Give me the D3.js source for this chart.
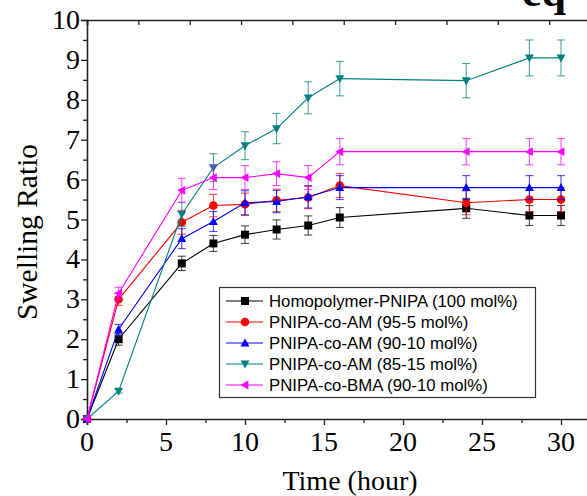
<!DOCTYPE html>
<html>
<head>
<meta charset="utf-8">
<script src="https://cdn.jsdelivr.net/npm/d3@7"></script>
<style>
  body { margin: 0; background: #fff; }
  svg { display: block; }
</style>
</head>
<body>
<script>
const hours = [0, 2, 6, 8, 10, 12, 14, 16, 24, 28, 30]
const seriesNames = [
  'Homopolymer-PNIPA (100 mol%)',
  'PNIPA-co-AM (95-5 mol%)',
  'PNIPA-co-AM (90-10 mol%)',
  'PNIPA-co-AM (85-15 mol%)',
  'PNIPA-co-BMA (90-10 mol%)'
]
const homoValues = [0, 2.0, 3.9, 4.4, 4.62, 4.75, 4.85, 5.05, 5.28, 5.1, 5.1]
const am95Values = [0, 3.0, 4.93, 5.35, 5.38, 5.48, 5.55, 5.85, 5.42, 5.5, 5.5]
const am90Values = [0, 2.25, 4.52, 4.95, 5.42, 5.45, 5.57, 5.8, 5.8, 5.8, 5.8]
const am85Values = [0, 0.7, 5.13, 6.3, 6.85, 7.28, 8.05, 8.53, 8.48, 9.05, 9.05]
const bmaValues = [0, 3.15, 5.73, 6.05, 6.05, 6.15, 6.05, 6.7, 6.7, 6.7, 6.7]
const homoErrors = [0, 0.15, 0.18, 0.2, 0.22, 0.24, 0.24, 0.25, 0.25, 0.25, 0.25]
const am95Errors = [0, 0.15, 0.3, 0.28, 0.28, 0.28, 0.28, 0.3, 0.3, 0.3, 0.3]
const am90Errors = [0, 0.12, 0.25, 0.25, 0.3, 0.28, 0.28, 0.3, 0.3, 0.3, 0.3]
const am85Errors = [0, 0.05, 0.3, 0.35, 0.35, 0.38, 0.4, 0.43, 0.43, 0.45, 0.45]
const bmaErrors = [0, 0.15, 0.3, 0.3, 0.3, 0.3, 0.3, 0.33, 0.33, 0.33, 0.33]
const xTicks = [0, 5, 10, 15, 20, 25, 30]
const yTicks = [0, 1, 2, 3, 4, 5, 6, 7, 8, 9, 10]

const colors = ['#000000', '#ff0000', '#0000ff', '#008080', '#ff00ff']
const symbols = ['square', 'circle', 'up', 'down', 'left']
const allValues = [homoValues, am95Values, am90Values, am85Values, bmaValues]
const allErrors = [homoErrors, am95Errors, am90Errors, am85Errors, bmaErrors]

const width = 587
const height = 496
const serif = '"Liberation Serif", "Times New Roman", serif'
const sans = '"Liberation Sans", Arial, sans-serif'

const svg = d3.select('body').append('svg')
  .attr('width', width)
  .attr('height', height)

const x = d3.scaleLinear().domain([0, 32]).range([87, 87 + 32 * 15.8])
const y = d3.scaleLinear().domain([0, 10]).range([419, 20])

// marker path for a given symbol name
function marker (kind, s) {
  const h = s / 2
  if (kind === 'square') return `M${-h},${-h}H${h}V${h}H${-h}Z`
  if (kind === 'circle') return d3.symbol(d3.symbolCircle, Math.PI * h * h * 1.15)()
  if (kind === 'up') return `M0,${-h * 1.15}L${h * 1.1},${h * 0.85}L${-h * 1.1},${h * 0.85}Z`
  if (kind === 'down') return `M0,${h * 1.15}L${h * 1.1},${-h * 0.85}L${-h * 1.1},${-h * 0.85}Z`
  return `M${-h * 1.15},0L${h * 0.85},${-h * 1.1}L${h * 0.85},${h * 1.1}Z`
}

// axes
const axisColor = '#222'
const bottomAxis = svg.append('g').attr('transform', `translate(0, ${y(0)})`)
bottomAxis.call(d3.axisBottom(x).tickValues(d3.range(0, 32.5, 2.5)).tickSize(6).tickFormat(''))
bottomAxis.selectAll('.tick line').attr('y2', d => d % 5 === 0 ? 6 : 4)
const leftAxis = svg.append('g').attr('transform', `translate(${x(0)}, 0)`)
leftAxis.call(d3.axisLeft(y).tickValues(d3.range(0, 10.01, 0.5)).tickSize(6).tickFormat(''))
leftAxis.selectAll('.tick line').attr('x2', d => Number.isInteger(d) ? -6 : -4)
const topAxis = svg.append('g').attr('transform', `translate(0, ${y(10)})`)
topAxis.call(d3.axisTop(x).tickValues(d3.range(0, 32, 3.25)).tickSize(-5).tickFormat(''))

svg.selectAll('.domain').attr('stroke', axisColor).attr('stroke-width', 1.6)
svg.selectAll('.tick line').attr('stroke', axisColor).attr('stroke-width', 1.3)

svg.append('g').selectAll('text')
  .data(xTicks)
  .enter().append('text')
  .attr('x', d => x(d))
  .attr('y', 451)
  .attr('text-anchor', 'middle')
  .style('font-family', serif)
  .style('font-size', '28px')
  .text(d => d)

svg.append('g').selectAll('text')
  .data(yTicks)
  .enter().append('text')
  .attr('x', 80)
  .attr('y', d => y(d) + 9)
  .attr('text-anchor', 'end')
  .style('font-family', serif)
  .style('font-size', '28px')
  .text(d => d)

svg.append('text')
  .attr('x', 350)
  .attr('y', 490)
  .attr('text-anchor', 'middle')
  .style('font-family', serif)
  .style('font-size', '28px')
  .text('Time (hour)')

svg.append('text')
  .attr('transform', 'translate(37, 232) rotate(-90)')
  .attr('text-anchor', 'middle')
  .style('font-family', serif)
  .style('font-size', '29.5px')
  .text('Swelling Ratio')

svg.append('text')
  .attr('x', 522)
  .attr('y', 6)
  .style('font-family', serif)
  .style('font-size', '44px')
  .style('font-weight', 'bold')
  .text('eq')

// series
const line = d3.line().x(d => x(d.t)).y(d => y(d.v))
allValues.forEach((vals, i) => {
  const pts = hours.map((t, j) => ({ t, v: vals[j], e: allErrors[i][j] }))
  const g = svg.append('g')
  g.append('path')
    .datum(pts)
    .attr('d', line)
    .attr('fill', 'none')
    .attr('stroke', colors[i])
    .attr('stroke-width', 1.1)

  const bars = g.selectAll('.err')
    .data(pts.filter(d => d.e > 0))
    .enter().append('g')
    .attr('stroke', colors[i])
    .attr('stroke-opacity', 0.7)
    .attr('stroke-width', 1.1)
  bars.append('line')
    .attr('x1', d => x(d.t)).attr('x2', d => x(d.t))
    .attr('y1', d => y(d.v - d.e)).attr('y2', d => y(d.v + d.e))
  bars.append('line')
    .attr('x1', d => x(d.t) - 4).attr('x2', d => x(d.t) + 4)
    .attr('y1', d => y(d.v + d.e)).attr('y2', d => y(d.v + d.e))
  bars.append('line')
    .attr('x1', d => x(d.t) - 4).attr('x2', d => x(d.t) + 4)
    .attr('y1', d => y(d.v - d.e)).attr('y2', d => y(d.v - d.e))

  g.selectAll('.mk')
    .data(pts)
    .enter().append('path')
    .attr('transform', d => `translate(${x(d.t)}, ${y(d.v)})`)
    .attr('d', marker(symbols[i], 8))
    .attr('fill', colors[i])
})

// legend
const legend = svg.append('g')
legend.append('rect')
  .attr('x', 219.5).attr('y', 287.5)
  .attr('width', 316).attr('height', 110)
  .attr('fill', '#fff')
  .attr('stroke', '#333')
  .attr('stroke-width', 1.2)
seriesNames.forEach((name, i) => {
  const ly = 301 + i * 21
  legend.append('line')
    .attr('x1', 226).attr('x2', 263)
    .attr('y1', ly).attr('y2', ly)
    .attr('stroke', colors[i])
    .attr('stroke-width', 1.1)
  legend.append('path')
    .attr('transform', `translate(245, ${ly})`)
    .attr('d', marker(symbols[i], 8))
    .attr('fill', colors[i])
  legend.append('text')
    .attr('x', 269)
    .attr('y', ly + 6)
    .style('font-family', sans)
    .style('font-size', '16.8px')
    .text(name)
})
</script>
</body>
</html>
